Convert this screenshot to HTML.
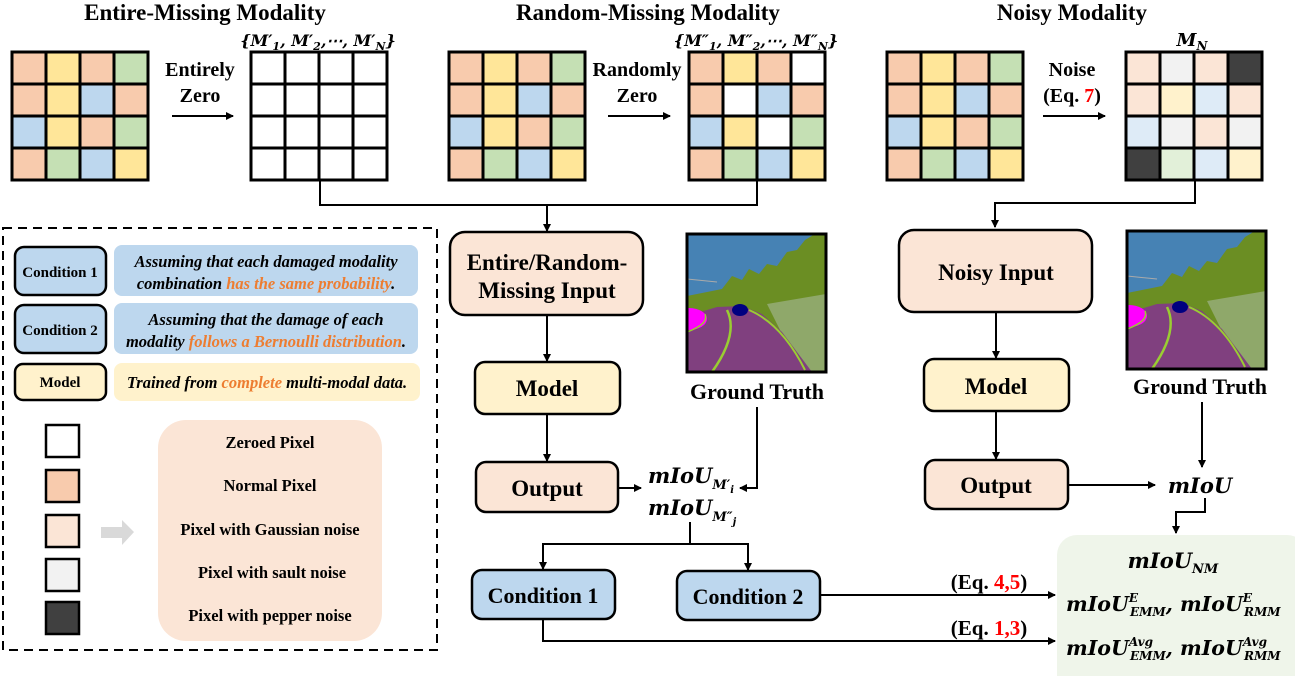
<!DOCTYPE html>
<html><head><meta charset="utf-8"><style>
html,body{margin:0;padding:0;background:#fff;}
svg{display:block;}
text{font-family:"Liberation Serif",serif;font-weight:bold;fill:#000;}
.m{font-family:"DejaVu Serif","Liberation Serif",serif;font-style:italic;font-weight:bold;}
.it{font-style:italic;}
.or{fill:#ed7d31;}
.red{fill:#ff0000;}
</style></head><body>
<svg width="1295" height="676" viewBox="0 0 1295 676" xmlns="http://www.w3.org/2000/svg">
<defs>
<marker id="ah" markerWidth="8" markerHeight="8" refX="7" refY="4" orient="auto" markerUnits="userSpaceOnUse">
<path d="M0,0 L8,4 L0,8 z" fill="#000"/></marker>
<clipPath id="gc"><rect x="0" y="0" width="139" height="138"/></clipPath>
<g id="gt">
<g clip-path="url(#gc)">
<rect x="0" y="0" width="139" height="138" fill="#4682b4"/>
<polygon points="0,62 20,58 35,55 45,42 55,46 62,35 72,40 80,30 90,32 100,18 110,16 118,6 128,0 139,0 139,138 0,138" fill="#6b8e23"/>
<polygon points="80,70 139,60 139,138 120,138 95,100" fill="#8fa86a"/>
<polygon points="0,82 30,73 55,72 75,80 95,98 125,138 0,138" fill="#80407f"/>
<ellipse cx="2" cy="85" rx="18" ry="11" fill="#ff00ff"/>
<path d="M40,76 Q52,100 25,138" stroke="#9acd32" stroke-width="2.5" fill="none"/>
<path d="M62,76 Q95,90 118,136" stroke="#9acd32" stroke-width="2" fill="none"/>
<path d="M18,80 Q22,90 0,98" stroke="#9acd32" stroke-width="1.5" fill="none"/>
<ellipse cx="53" cy="76" rx="8" ry="6" fill="#000080"/>
<line x1="0" y1="45" x2="30" y2="48" stroke="#aaa" stroke-width="1"/>
</g>
<rect x="0" y="0" width="139" height="138" fill="none" stroke="#000" stroke-width="3"/>
</g>
</defs>

<!-- titles -->
<text x="205" y="20" font-size="23" text-anchor="middle">Entire-Missing Modality</text>
<text x="648" y="20" font-size="23" text-anchor="middle">Random-Missing Modality</text>
<text x="1072" y="20" font-size="23" text-anchor="middle">Noisy Modality</text>

<g id="grids"></g>

<!-- grid arrows & labels -->
<text x="200" y="76" font-size="20" text-anchor="middle">Entirely</text>
<text x="200" y="102" font-size="20" text-anchor="middle">Zero</text>
<line x1="172" y1="116" x2="233" y2="116" stroke="#000" stroke-width="2" marker-end="url(#ah)"/>
<text x="637" y="76" font-size="20" text-anchor="middle">Randomly</text>
<text x="637" y="102" font-size="20" text-anchor="middle">Zero</text>
<line x1="608" y1="116" x2="670" y2="116" stroke="#000" stroke-width="2" marker-end="url(#ah)"/>
<text x="1072" y="76" font-size="20" text-anchor="middle">Noise</text>
<text x="1072" y="102" font-size="20" text-anchor="middle">(Eq. <tspan class="red">7</tspan>)</text>
<line x1="1043" y1="116" x2="1105" y2="116" stroke="#000" stroke-width="2" marker-end="url(#ah)"/>

<!-- set labels -->
<text x="318" y="46" font-size="16" text-anchor="middle"><tspan class="m" font-weight="normal">{</tspan><tspan class="m">M′</tspan><tspan class="m" font-size="11" dy="4">1</tspan><tspan class="m" dy="-4">, M′</tspan><tspan class="m" font-size="11" dy="4">2</tspan><tspan class="m" dy="-4">,⋯, M′</tspan><tspan class="m" font-size="11" dy="4">N</tspan><tspan class="m" font-weight="normal" dy="-4">}</tspan></text>
<text x="756" y="46" font-size="16" text-anchor="middle"><tspan class="m" font-weight="normal">{</tspan><tspan class="m">M″</tspan><tspan class="m" font-size="11" dy="4">1</tspan><tspan class="m" dy="-4">, M″</tspan><tspan class="m" font-size="11" dy="4">2</tspan><tspan class="m" dy="-4">,⋯, M″</tspan><tspan class="m" font-size="11" dy="4">N</tspan><tspan class="m" font-weight="normal" dy="-4">}</tspan></text>
<text x="1192" y="46" font-size="18" text-anchor="middle"><tspan class="m">M</tspan><tspan class="m" font-size="12" dy="4">N</tspan></text>

<!-- top connectors -->
<polyline points="320,180 320,205 757,205 757,180" fill="none" stroke="#000" stroke-width="2"/>
<line x1="547" y1="205" x2="547" y2="231" stroke="#000" stroke-width="2" marker-end="url(#ah)"/>
<polyline points="1195,180 1195,203 995,203 995,227" fill="none" stroke="#000" stroke-width="2" marker-end="url(#ah)"/>

<!-- dashed legend box -->
<rect x="3" y="228" width="434" height="422" fill="none" stroke="#000" stroke-width="2" stroke-dasharray="9,6"/>
<rect x="15" y="247" width="91" height="48" rx="9" fill="#bdd7ee" stroke="#000" stroke-width="2.5"/>
<text x="60" y="277" font-size="15" text-anchor="middle">Condition 1</text>
<rect x="114" y="245" width="304" height="51" rx="8" fill="#bdd7ee"/>
<text x="266" y="267" font-size="16.5" text-anchor="middle" class="it">Assuming that each damaged modality</text>
<text x="266" y="289" font-size="16.5" text-anchor="middle" class="it">combination <tspan class="or">has the same probability</tspan>.</text>
<rect x="15" y="305" width="91" height="48" rx="9" fill="#bdd7ee" stroke="#000" stroke-width="2.5"/>
<text x="60" y="335" font-size="15" text-anchor="middle">Condition 2</text>
<rect x="114" y="303" width="304" height="51" rx="8" fill="#bdd7ee"/>
<text x="266" y="325" font-size="16.5" text-anchor="middle" class="it">Assuming that the damage of each</text>
<text x="266" y="347" font-size="16.5" text-anchor="middle" class="it">modality <tspan class="or">follows a Bernoulli distribution</tspan>.</text>
<rect x="15" y="364" width="91" height="36" rx="8" fill="#fff2cc" stroke="#000" stroke-width="2.5"/>
<text x="60" y="387" font-size="15" text-anchor="middle">Model</text>
<rect x="114" y="363" width="306" height="38" rx="8" fill="#fff2cc"/>
<text x="267" y="388" font-size="16.5" text-anchor="middle" class="it">Trained from <tspan class="or">complete</tspan> multi-modal data.</text>

<rect x="46" y="425" width="33" height="32" fill="#fff" stroke="#000" stroke-width="2.5"/>
<rect x="46" y="470" width="33" height="32" fill="#f8cbad" stroke="#000" stroke-width="2.5"/>
<rect x="46" y="515" width="33" height="32" fill="#fbe5d6" stroke="#000" stroke-width="2.5"/>
<rect x="46" y="559" width="33" height="32" fill="#f2f2f2" stroke="#000" stroke-width="2.5"/>
<rect x="46" y="602" width="33" height="32" fill="#404040" stroke="#000" stroke-width="2.5"/>
<polygon points="101,527 122,527 122,520 134,532 122,545 122,538 101,538" fill="#d9d9d9"/>
<rect x="158" y="420" width="224" height="221" rx="28" fill="#fbe5d6"/>
<text x="270" y="448" font-size="16.5" text-anchor="middle">Zeroed Pixel</text>
<text x="270" y="491" font-size="16.5" text-anchor="middle">Normal Pixel</text>
<text x="270" y="535" font-size="16.5" text-anchor="middle">Pixel with Gaussian noise</text>
<text x="272" y="578" font-size="16.5" text-anchor="middle">Pixel with sault noise</text>
<text x="270" y="621" font-size="16.5" text-anchor="middle">Pixel with pepper noise</text>

<!-- middle column -->
<rect x="450" y="232" width="193" height="83" rx="15" fill="#fbe5d6" stroke="#000" stroke-width="2.5"/>
<text x="547" y="270" font-size="23" text-anchor="middle">Entire/Random-</text>
<text x="547" y="298" font-size="23" text-anchor="middle">Missing Input</text>
<line x1="547" y1="315" x2="547" y2="361" stroke="#000" stroke-width="2" marker-end="url(#ah)"/>
<rect x="475" y="362" width="145" height="52" rx="10" fill="#fff2cc" stroke="#000" stroke-width="2.5"/>
<text x="547" y="396" font-size="23" text-anchor="middle">Model</text>
<line x1="547" y1="414" x2="547" y2="461" stroke="#000" stroke-width="2" marker-end="url(#ah)"/>
<rect x="476" y="462" width="142" height="50" rx="10" fill="#fbe5d6" stroke="#000" stroke-width="2.5"/>
<text x="547" y="496" font-size="23" text-anchor="middle">Output</text>
<line x1="619" y1="488" x2="641" y2="488" stroke="#000" stroke-width="2" marker-end="url(#ah)"/>
<text x="648" y="483" font-size="21" class="m">mIoU<tspan font-size="13" dy="6">M′</tspan><tspan font-size="10" dy="4">i</tspan></text>
<text x="648" y="515" font-size="21" class="m">mIoU<tspan font-size="13" dy="6">M″</tspan><tspan font-size="10" dy="4">j</tspan></text>
<use href="#gt" x="687" y="234"/>
<text x="757" y="399" font-size="22" text-anchor="middle">Ground Truth</text>
<polyline points="757,407 757,488 740,488" fill="none" stroke="#000" stroke-width="2" marker-end="url(#ah)"/>
<line x1="690" y1="522" x2="690" y2="544" stroke="#000" stroke-width="2"/>
<polyline points="543,544 748,544" fill="none" stroke="#000" stroke-width="2"/>
<line x1="543" y1="543" x2="543" y2="569" stroke="#000" stroke-width="2" marker-end="url(#ah)"/>
<line x1="748" y1="543" x2="748" y2="570" stroke="#000" stroke-width="2" marker-end="url(#ah)"/>
<rect x="472" y="570" width="143" height="49" rx="10" fill="#bdd7ee" stroke="#000" stroke-width="2.5"/>
<text x="543" y="603" font-size="22" text-anchor="middle">Condition 1</text>
<rect x="677" y="571" width="143" height="49" rx="10" fill="#bdd7ee" stroke="#000" stroke-width="2.5"/>
<text x="748" y="604" font-size="22" text-anchor="middle">Condition 2</text>
<line x1="820" y1="595" x2="1055" y2="595" stroke="#000" stroke-width="2" marker-end="url(#ah)"/>
<polyline points="543,619 543,641 1055,641" fill="none" stroke="#000" stroke-width="2" marker-end="url(#ah)"/>
<text x="989" y="589" font-size="21" text-anchor="middle">(Eq. <tspan class="red">4,5</tspan>)</text>
<text x="989" y="635" font-size="21" text-anchor="middle">(Eq. <tspan class="red">1,3</tspan>)</text>

<!-- right column -->
<rect x="899" y="230" width="193" height="82" rx="15" fill="#fbe5d6" stroke="#000" stroke-width="2.5"/>
<text x="996" y="280" font-size="23" text-anchor="middle">Noisy Input</text>
<line x1="996" y1="312" x2="996" y2="358" stroke="#000" stroke-width="2" marker-end="url(#ah)"/>
<rect x="924" y="359" width="145" height="52" rx="10" fill="#fff2cc" stroke="#000" stroke-width="2.5"/>
<text x="996" y="394" font-size="23" text-anchor="middle">Model</text>
<line x1="996" y1="411" x2="996" y2="459" stroke="#000" stroke-width="2" marker-end="url(#ah)"/>
<rect x="925" y="460" width="143" height="49" rx="10" fill="#fbe5d6" stroke="#000" stroke-width="2.5"/>
<text x="996" y="493" font-size="23" text-anchor="middle">Output</text>
<line x1="1068" y1="485" x2="1155" y2="485" stroke="#000" stroke-width="2" marker-end="url(#ah)"/>
<text x="1200" y="493" font-size="21" class="m" text-anchor="middle">mIoU</text>
<use href="#gt" x="1127" y="231"/>
<text x="1200" y="394" font-size="22" text-anchor="middle">Ground Truth</text>
<line x1="1202" y1="402" x2="1202" y2="467" stroke="#000" stroke-width="2" marker-end="url(#ah)"/>
<polyline points="1205,498 1205,512 1176,512 1176,533" fill="none" stroke="#000" stroke-width="2" marker-end="url(#ah)"/>
<rect x="1057" y="535" width="250" height="160" rx="20" fill="#eff5ea"/>
<text x="1173" y="568" font-size="21" class="m" text-anchor="middle">mIoU<tspan font-size="13" dy="5">NM</tspan></text>
<text x="1066" y="611" font-size="20.5" class="m">mIoU<tspan font-size="12" dy="-9">E</tspan><tspan font-size="12" dx="-8" dy="14">EMM</tspan><tspan dy="-5">, mIoU</tspan><tspan font-size="12" dy="-9">E</tspan><tspan font-size="12" dx="-8" dy="14">RMM</tspan></text>
<text x="1066" y="655" font-size="20.5" class="m">mIoU<tspan font-size="12" dy="-9">Avg</tspan><tspan font-size="12" dx="-23" dy="14">EMM</tspan><tspan dy="-5">, mIoU</tspan><tspan font-size="12" dy="-9">Avg</tspan><tspan font-size="12" dx="-23" dy="14">RMM</tspan></text>
</svg>
<script>
(function(){
var C={P:"#f8cbad",Y:"#ffe699",B:"#bdd7ee",G:"#c5e0b4",W:"#ffffff",lP:"#fbe5d6",lR:"#f2f2f2",D:"#404040",lY:"#fff2cc",lB:"#deebf7",lG:"#e2f0d9"};
var orig=[["P","Y","P","G"],["P","Y","B","P"],["B","Y","P","G"],["P","G","B","Y"]];
var white=[["W","W","W","W"],["W","W","W","W"],["W","W","W","W"],["W","W","W","W"]];
var rnd=[["P","Y","P","W"],["P","W","B","P"],["B","Y","W","G"],["P","G","B","Y"]];
var noisy=[["lP","lR","lP","D"],["lP","lY","lB","lP"],["lB","lR","lP","lR"],["D","lG","lB","lY"]];
var grids=[[12,orig],[251,white],[449,orig],[689,rnd],[887,orig],[1126,noisy]];
var ns="http://www.w3.org/2000/svg",g=document.getElementById("grids");
grids.forEach(function(q){var x0=q[0],y0=52,w=34,h=32;
for(var r=0;r<4;r++)for(var c=0;c<4;c++){var e=document.createElementNS(ns,"rect");
e.setAttribute("x",x0+c*w);e.setAttribute("y",y0+r*h);e.setAttribute("width",w);e.setAttribute("height",h);
e.setAttribute("fill",C[q[1][r][c]]);e.setAttribute("stroke","#000");e.setAttribute("stroke-width","3");g.appendChild(e);}});
})();
</script>
</body></html>
